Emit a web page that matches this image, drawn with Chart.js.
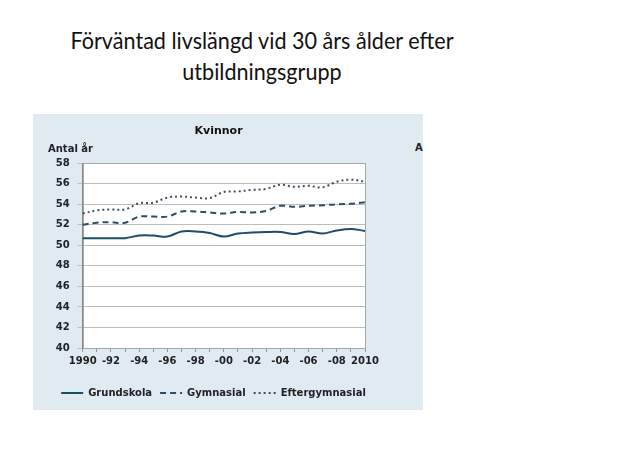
<!DOCTYPE html>
<html><head><meta charset="utf-8">
<script src="https://cdn.jsdelivr.net/npm/chart.js@4.4.1/dist/chart.umd.min.js"></script>
<style>
html,body{margin:0;padding:0;background:#fff;width:621px;height:466px;overflow:hidden}
#title{position:absolute;left:0;top:24px;width:524px;text-align:center;font-family:Lato,"Open Sans",sans-serif;font-size:24px;line-height:31px;color:#111;transform-origin:262px 0;white-space:nowrap}
#panel{position:absolute;left:33px;top:114px;width:390px;height:296px;background:#dfeaf1;overflow:hidden}
#wrap{position:absolute;left:5px;top:0;width:358px;height:296px}
#a{position:absolute;left:382px;top:28px;font:bold 10px "DejaVu Sans";color:#222}
</style></head>
<body>
<div id="title"><span id="l1">Förväntad livslängd vid 30 års ålder efter</span><br><span>utbildningsgrupp</span></div>
<div id="panel"><div id="wrap"><canvas id="c" width="358" height="296"></canvas></div><div id="a">A</div></div>
<script>
const years = ["1990","1991","1992","1993","1994","1995","1996","1997","1998","1999","2000","2001","2002","2003","2004","2005","2006","2007","2008","2009","2010"];
const tickLabels = ["1990","","-92","","-94","","-96","","-98","","-00","","-02","","-04","","-06","","-08","","2010"];
const grundskola = [50.7,50.7,50.7,50.7,50.95,50.95,50.85,51.35,51.35,51.2,50.85,51.15,51.25,51.3,51.3,51.1,51.35,51.15,51.45,51.6,51.4];
const gymnasial = [52.0,52.2,52.25,52.2,52.8,52.8,52.8,53.3,53.3,53.2,53.1,53.25,53.2,53.35,53.85,53.75,53.85,53.9,54.0,54.05,54.2];
const eftergymnasial = [53.1,53.4,53.5,53.5,54.1,54.15,54.65,54.75,54.65,54.6,55.2,55.25,55.4,55.5,55.9,55.7,55.8,55.65,56.2,56.4,56.2];
const seriesNames = ["Grundskola","Gymnasial","Eftergymnasial"];

// fit title width
(function(){
  const l1 = document.getElementById('l1');
  const w = l1.getBoundingClientRect().width;
  document.getElementById('title').style.transform = 'scaleX(' + (383 / w) + ')';
})();

const boldFont = (s) => ({family:'"DejaVu Sans"', size:s, weight:'bold'});

const areaPlugin = {
  id:'area',
  afterLayout(chart){
    // shift the chart title and legend to the right, as in the original
    if (chart.titleBlock){ chart.titleBlock.left += 17; chart.titleBlock.right += 17; }
    if (chart.legend){ chart.legend.left += 12; chart.legend.right += 12; }
  },
  beforeDraw(chart){
    const {ctx, chartArea:a} = chart;
    ctx.save();
    ctx.fillStyle = '#ffffff';
    ctx.fillRect(a.left, a.top, a.width, a.height);
    ctx.restore();
  },
  beforeDatasetsDraw(chart){
    const {ctx, chartArea:a} = chart;
    ctx.save();
    ctx.strokeStyle = '#a8a8a8';
    ctx.lineWidth = 1;
    ctx.strokeRect(Math.round(a.left)+0.5, Math.round(a.top)+0.5, Math.round(a.width), Math.round(a.height));
    ctx.restore();
  },
  afterDraw(chart){
    const ctx = chart.ctx;
    ctx.save();
    ctx.font = 'bold 10px "DejaVu Sans"';
    ctx.fillStyle = '#222';
    ctx.textBaseline = 'middle';
    ctx.textAlign = 'left';
    ctx.fillText('Antal år', 10, 35);
    ctx.restore();
  }
};

new Chart(document.getElementById('c'), {
  type:'line',
  data:{
    labels:years,
    datasets:[
      {label:seriesNames[0], data:grundskola, borderColor:'#1d4d6a', backgroundColor:'#1d4d6a', borderWidth:2, pointRadius:0, tension:0.35, fill:false},
      {label:seriesNames[1], data:gymnasial, borderColor:'#2a4e66', backgroundColor:'#2a4e66', borderWidth:2, borderDash:[6,4], pointRadius:0, tension:0.35, fill:false},
      {label:seriesNames[2], data:eftergymnasial, borderColor:'#3e4f63', backgroundColor:'#3e4f63', borderWidth:2, borderDash:[2,3], pointRadius:0, tension:0.35, fill:false}
    ]
  },
  options:{
    responsive:false, animation:false, devicePixelRatio:1,
    layout:{padding:{top:11, right:31, bottom:2, left:0}},
    plugins:{
      title:{display:true, text:'Kvinnor', font:boldFont(11), color:'#111', padding:{top:0, bottom:25}},
      legend:{position:'bottom', labels:{
        usePointStyle:true, pointStyle:'line', pointStyleWidth:22, font:boldFont(10), color:'#222', padding:8,
        generateLabels(chart){
          return chart.data.datasets.map((ds,i)=>({
            text:ds.label, fillStyle:ds.borderColor, strokeStyle:ds.borderColor,
            lineWidth:ds.borderWidth, lineDash:ds.borderDash||[], pointStyle:'line',
            hidden:false, datasetIndex:i, fontColor:'#222'
          }));
        }
      }},
      tooltip:{enabled:false}
    },
    scales:{
      x:{
        grid:{drawOnChartArea:false, drawTicks:true, tickLength:4, color:'#999'},
        border:{color:'#999'},
        ticks:{autoSkip:false, maxRotation:0, minRotation:0, callback:(v,i)=>tickLabels[i], font:boldFont(10), color:'#222', padding:3},
        afterFit(s){ s.height += 10; }
      },
      y:{
        min:40, max:58,
        ticks:{stepSize:2, font:boldFont(10), color:'#222', padding:8},
        grid:{color:'#bdbdbd', tickLength:5},
        border:{color:'#888'},
        afterFit(s){ s.width = 44.7; }
      }
    }
  },
  plugins:[areaPlugin]
});
</script>
</body></html>
